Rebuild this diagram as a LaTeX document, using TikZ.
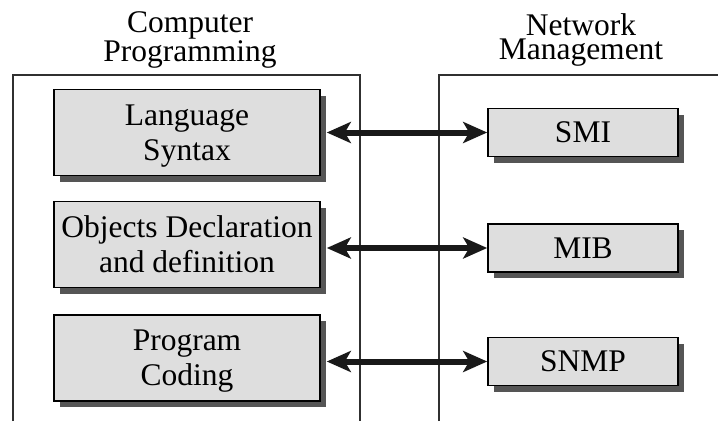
\documentclass[tikz,border=0pt]{standalone}
\usepackage{fontspec}
\setmainfont{Liberation Serif}
\usetikzlibrary{arrows.meta,shadows}
\definecolor{boxfill}{HTML}{DEDEDE}
\definecolor{shadowgray}{HTML}{555555}
\definecolor{framegray}{HTML}{303030}
\begin{document}
\begin{tikzpicture}[x=1pt,y=-1pt,
  every node/.style={inner sep=0pt},
  titletext/.style={align=center,font=\fontsize{31.5}{24}\selectfont},
  lbox/.style={draw=black,line width=1.6pt,fill=boxfill,minimum width=266pt,minimum height=86pt,
    align=center,font=\fontsize{31.5}{35}\selectfont,text depth=0pt,
    drop shadow={shadow xshift=6pt,shadow yshift=-6pt,fill=shadowgray,opacity=1}},
  rbox/.style={lbox,minimum width=190pt,minimum height=48pt},
  frameline/.style={draw=framegray,line width=1.3pt},
  biarrow/.style={line width=6pt,draw=black!90,{Stealth[length=24pt,width=21pt,inset=6pt]}-{Stealth[length=24pt,width=21pt,inset=6pt]}}
]
\useasboundingbox (0,0) rectangle (718,421);
\fill[white] (0,0) rectangle (718,421);
% frames
\draw[frameline] (13,421) -- (13,75) -- (360,75) -- (360,421);
\draw[frameline] (439,421) -- (439,75) -- (718,75);
% titles
\node[titletext] (tcp) at (190,40) {Computer\\Programming};
\node[titletext] (tnm) at (581,40) {Network\\Management};
% left boxes
\node[lbox] (lang) at (187,132.5) {Language\\Syntax};
\node[lbox] (obj) at (187,244.5) {Objects Declaration\\and definition};
\node[lbox] (prog) at (187,358) {Program\\Coding};
% right boxes
\node[rbox] (smi) at (583,132.5) {SMI};
\node[rbox] (mib) at (583,248) {MIB};
\node[rbox] (snmp) at (583,361.5) {SNMP};
% arrows
\draw[biarrow] ([xshift=6pt]smi.west -| lang.east) -- (smi.west);
\draw[biarrow] ([xshift=6pt]mib.west -| obj.east) -- (mib.west);
\draw[biarrow] ([xshift=6pt]snmp.west -| prog.east) -- (snmp.west);
\end{tikzpicture}
\end{document}
